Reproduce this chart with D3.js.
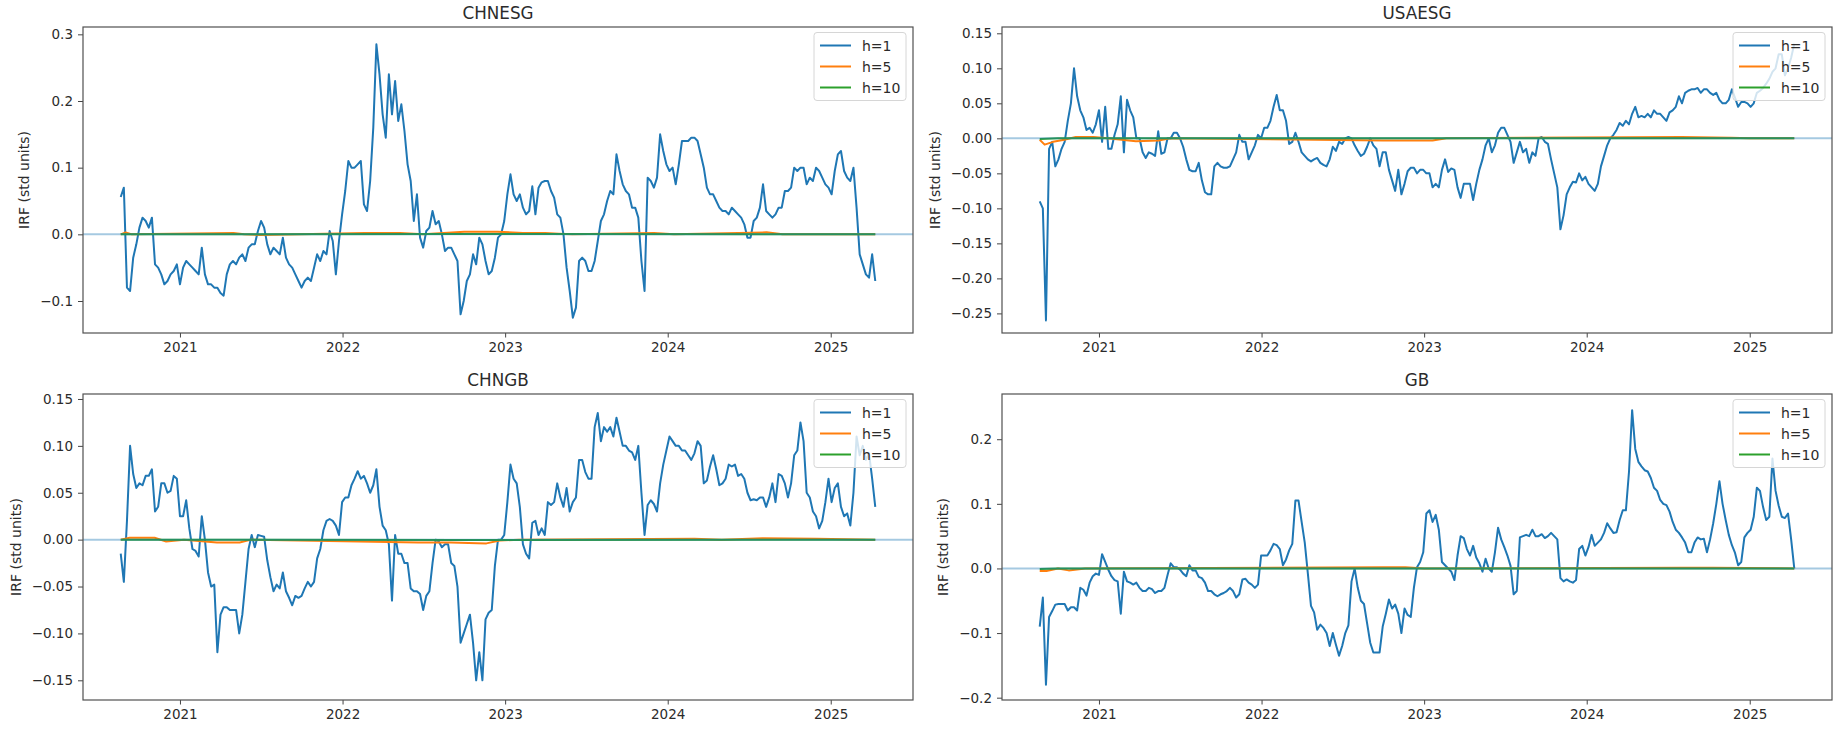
<!DOCTYPE html>
<html><head><meta charset="utf-8">
<script src="https://cdn.jsdelivr.net/npm/d3@7"></script>
<style>
body{margin:0;background:#fff}
svg{display:block}
text{font-family:"DejaVu Sans",sans-serif;fill:#2b2b2b}
</style>
</head><body>
<svg id="c" width="1842" height="732"></svg>
<script>
// ---------------- data ----------------
const panelNames = ["CHNESG", "USAESG", "CHNGB", "GB"];
const seriesLabels = ["h=1", "h=5", "h=10"];
const seriesColors = ["#1f77b4", "#ff7f0e", "#2ca02c"];
const yAxisLabel = "IRF (std units)";
const xTickYears = [2021, 2022, 2023, 2024, 2025];
// weekly observation index of the h=1 series
const firstDate = "2020-08-21";
const stepDays = 7;

const chnesgH1 = [0.056,0.07,-0.08,-0.085,-0.035,-0.015,0.01,0.025,0.02,0.01,0.025,
-0.045,-0.05,-0.06,-0.075,-0.07,-0.06,-0.055,-0.045,-0.075,-0.05,
-0.04,-0.045,-0.05,-0.055,-0.06,-0.02,-0.06,-0.075,-0.075,-0.08,
-0.08,-0.088,-0.092,-0.06,-0.045,-0.04,-0.045,-0.035,-0.03,-0.04,
-0.02,-0.015,-0.015,0.005,0.02,0.01,-0.015,-0.03,-0.02,-0.025,
-0.03,-0.005,-0.035,-0.045,-0.05,-0.06,-0.07,-0.08,-0.07,-0.065,
-0.07,-0.05,-0.03,-0.04,-0.025,-0.03,0.005,-0.01,-0.06,-0.01,
0.03,0.065,0.11,0.1,0.1,0.105,0.11,0.045,0.035,0.08,
0.16,0.285,0.24,0.18,0.145,0.24,0.18,0.23,0.17,0.195,
0.155,0.105,0.08,0.02,0.06,-0.005,-0.02,0.005,0.01,0.035,
0.015,0.02,0.0,-0.025,-0.02,-0.02,-0.03,-0.04,
-0.12,-0.1,-0.07,-0.06,-0.03,-0.045,-0.005,-0.015,-0.04,-0.06,-0.055,-0.035,
-0.005,0.0,0.02,0.06,0.09,0.06,0.05,0.06,0.04,0.03,
0.035,0.072,0.03,0.07,0.078,0.08,0.08,0.065,0.055,0.03,
0.025,0.0,-0.05,-0.085,-0.125,-0.11,-0.04,-0.035,-0.04,-0.055,
-0.055,-0.04,-0.01,0.02,0.03,0.05,0.065,0.06,0.12,0.095,
0.075,0.065,0.06,0.04,0.04,0.025,-0.04,-0.085,0.085,0.08,
0.07,0.085,0.15,0.125,0.105,0.095,0.1,0.075,0.105,0.14,
0.14,0.14,0.145,0.145,0.14,0.12,0.1,0.07,0.06,0.06,
0.05,0.04,0.035,0.035,0.03,0.04,0.035,0.03,0.025,0.015,
-0.005,-0.005,0.02,0.025,0.04,0.075,0.035,0.03,0.025,0.03,
0.04,0.04,0.065,0.065,0.07,0.1,0.095,0.1,0.1,0.075,
0.085,0.08,0.1,0.095,0.085,0.075,0.07,0.06,0.095,0.12,
0.125,0.095,0.085,0.08,0.1,0.04,-0.03,-0.045,-0.06,-0.065,
-0.03,-0.07];

const usaesgH1 = [-0.09,-0.1,-0.26,-0.015,-0.005,-0.04,-0.03,-0.015,-0.005,0.025,0.05,
0.1,0.06,0.04,0.03,0.012,0.015,0.008,0.02,0.04,-0.005,
0.045,-0.015,-0.015,0.005,0.02,0.06,-0.02,0.055,0.04,0.03,
0.0,0.0,-0.02,-0.028,-0.02,-0.022,-0.025,0.01,-0.022,-0.02,
0.0,0.0,0.008,0.008,0.0,-0.012,-0.03,-0.045,-0.047,-0.047,
-0.035,-0.06,-0.077,-0.08,-0.08,-0.04,-0.035,-0.04,-0.042,-0.042,
-0.04,-0.03,-0.02,0.005,-0.005,-0.005,-0.03,-0.02,-0.01,0.005,
0.0,0.015,0.015,0.025,0.045,0.062,0.04,0.04,0.025,-0.008,
-0.005,0.008,-0.005,-0.02,-0.025,-0.03,-0.033,-0.03,-0.028,-0.035,
-0.038,-0.04,-0.03,-0.012,-0.018,-0.005,-0.008,0.0,0.002,0.0,
-0.01,-0.018,-0.025,-0.022,-0.012,0.0,-0.01,-0.015,
-0.04,-0.02,-0.02,-0.045,-0.06,-0.075,-0.045,-0.08,-0.065,-0.047,-0.042,-0.042,
-0.05,-0.045,-0.045,-0.05,-0.05,-0.07,-0.065,-0.07,-0.045,-0.03,
-0.048,-0.043,-0.045,-0.07,-0.085,-0.065,-0.065,-0.065,-0.088,-0.065,
-0.045,-0.03,-0.01,0.0,-0.02,-0.01,0.008,0.015,0.015,0.005,
-0.005,-0.035,-0.02,-0.005,-0.02,-0.015,-0.035,-0.02,-0.025,0.0,
0.002,-0.005,-0.008,-0.03,-0.05,-0.07,-0.13,-0.11,-0.08,-0.07,
-0.062,-0.063,-0.05,-0.06,-0.055,-0.065,-0.07,-0.075,-0.065,-0.04,
-0.025,-0.01,0.0,0.005,0.012,0.022,0.018,0.025,0.02,0.035,
0.045,0.03,0.032,0.03,0.035,0.03,0.04,0.035,0.035,0.03,
0.025,0.037,0.04,0.045,0.06,0.05,0.065,0.068,0.07,0.07,
0.072,0.065,0.07,0.07,0.065,0.062,0.065,0.055,0.05,0.05,
0.055,0.07,0.058,0.045,0.052,0.052,0.05,0.045,0.05,0.065,
0.068,0.072,0.078,0.085,0.095,0.1,0.12,0.12,0.09,0.1,
0.115,0.135];

const chngbH1 = [-0.015,-0.045,0.02,0.1,0.07,0.055,0.06,0.058,0.068,0.068,0.075,
0.03,0.035,0.06,0.06,0.05,0.052,0.068,0.065,0.025,0.025,
0.042,0.012,-0.01,-0.012,-0.018,0.025,0.0,-0.035,-0.05,-0.048,
-0.12,-0.08,-0.072,-0.072,-0.075,-0.075,-0.075,-0.1,-0.08,-0.045,
-0.01,0.005,-0.008,0.005,0.004,0.003,-0.022,-0.04,-0.055,-0.048,
-0.052,-0.035,-0.055,-0.062,-0.07,-0.06,-0.062,-0.06,-0.052,-0.045,
-0.05,-0.045,-0.02,-0.01,0.01,0.02,0.022,0.02,0.015,0.005,
0.04,0.045,0.045,0.058,0.065,0.073,0.065,0.068,0.06,0.05,
0.058,0.075,0.035,0.015,0.01,-0.005,-0.065,0.005,-0.015,-0.015,
-0.025,-0.025,-0.052,-0.055,-0.055,-0.058,-0.075,-0.06,-0.055,-0.025,
0.0,-0.002,-0.008,-0.005,-0.005,-0.025,-0.028,-0.05,
-0.11,-0.1,-0.09,-0.08,-0.11,-0.15,-0.12,-0.15,-0.085,-0.078,-0.075,-0.028,
0.0,0.0,0.005,0.04,0.08,0.065,0.06,0.035,-0.005,-0.015,
-0.02,0.018,0.02,0.005,0.012,0.005,0.04,0.037,0.04,0.06,
0.045,0.035,0.055,0.03,0.04,0.045,0.085,0.085,0.072,0.065,
0.065,0.12,0.135,0.105,0.12,0.115,0.12,0.11,0.13,0.115,
0.1,0.1,0.095,0.093,0.085,0.1,0.05,0.005,0.037,0.042,
0.038,0.03,0.06,0.08,0.095,0.11,0.105,0.1,0.1,0.095,
0.095,0.09,0.085,0.092,0.105,0.1,0.06,0.063,0.078,0.09,
0.075,0.058,0.06,0.065,0.08,0.078,0.08,0.068,0.07,0.065,
0.05,0.042,0.043,0.042,0.045,0.045,0.035,0.045,0.06,0.04,
0.07,0.068,0.06,0.045,0.06,0.09,0.095,0.125,0.105,0.05,
0.045,0.03,0.025,0.012,0.02,0.04,0.065,0.04,0.055,0.06,
0.035,0.025,0.028,0.015,0.05,0.11,0.09,0.1,0.085,0.092,
0.065,0.035];

const gbH1 = [-0.09,-0.045,-0.18,-0.075,-0.066,-0.056,-0.055,-0.055,-0.055,-0.065,-0.06,
-0.06,-0.065,-0.03,-0.033,-0.042,-0.022,-0.012,-0.008,-0.01,0.022,
0.01,-0.002,-0.012,-0.018,-0.02,-0.07,-0.005,-0.02,-0.022,-0.025,
-0.022,-0.03,-0.035,-0.035,-0.03,-0.032,-0.038,-0.035,-0.035,-0.03,
-0.01,0.008,0.002,0.002,-0.002,-0.008,-0.012,0.005,-0.003,-0.003,
-0.013,-0.015,-0.022,-0.035,-0.035,-0.04,-0.043,-0.04,-0.038,-0.035,
-0.03,-0.035,-0.045,-0.04,-0.017,-0.016,-0.022,-0.025,-0.03,-0.025,
0.02,0.02,0.02,0.028,0.038,0.036,0.03,0.005,0.014,0.028,
0.038,0.105,0.105,0.072,0.04,-0.008,-0.058,-0.068,-0.095,-0.087,
-0.092,-0.1,-0.12,-0.1,-0.118,-0.135,-0.12,-0.1,-0.088,-0.02,
0.0,-0.03,-0.05,-0.055,-0.085,-0.115,-0.13,-0.13,
-0.13,-0.09,-0.07,-0.048,-0.062,-0.056,-0.07,-0.1,-0.062,-0.072,-0.075,-0.03,
0.002,0.01,0.025,0.085,0.09,0.072,0.083,0.06,0.01,0.005,
0.0,-0.005,-0.018,0.02,0.05,0.047,0.03,0.02,0.035,0.017,
0.008,-0.005,0.015,0.0,-0.005,0.025,0.063,0.045,0.033,0.02,
0.004,-0.04,-0.035,0.048,0.05,0.052,0.05,0.06,0.05,0.05,
0.053,0.047,0.05,0.055,0.05,0.045,-0.015,-0.02,-0.017,-0.02,
-0.022,-0.018,0.03,0.035,0.02,0.033,0.052,0.035,0.04,0.045,
0.055,0.07,0.062,0.055,0.056,0.075,0.09,0.09,0.15,0.245,
0.185,0.165,0.158,0.152,0.15,0.14,0.125,0.12,0.106,0.1,
0.098,0.088,0.072,0.06,0.055,0.048,0.04,0.025,0.025,0.04,
0.048,0.045,0.046,0.025,0.045,0.07,0.1,0.135,0.1,0.075,
0.052,0.036,0.024,0.005,0.01,0.048,0.055,0.06,0.08,0.125,
0.12,0.095,0.075,0.08,0.17,0.12,0.097,0.08,0.078,0.085,
0.045,0.0];

// h=5 and h=10 responses (dated, near zero)
const chnesgH5 = [["2020-08-21",0.0],["2020-09-01",0.003],["2020-09-15",0.0],["2021-05-01",0.002],["2021-05-25",0.0],["2021-06-30",-0.001],["2022-02-20",0.002],["2022-05-10",0.002],["2022-07-01",0.0],["2022-10-01",0.004],["2022-12-15",0.004],["2023-02-10",0.002],["2023-04-01",0.002],["2023-05-01",0.001],["2023-06-01",0.0],["2023-12-01",0.002],["2024-01-15",0.0],["2024-08-10",0.003],["2024-09-15",0.0],["2025-04-11",0.0]];
const usaesgH5 = [["2020-08-21",-0.002],["2020-09-01",-0.009],["2020-09-20",-0.005],["2020-10-15",-0.002],["2020-11-10",0.002],["2020-12-20",0.002],["2021-01-20",0.0],["2021-03-25",-0.004],["2021-05-15",-0.003],["2021-06-10",0.0],["2022-10-01",-0.003],["2023-01-20",-0.003],["2023-02-20",0.0],["2024-08-01",0.002],["2024-11-20",0.001],["2025-01-01",0.0],["2025-04-11",0.0]];
const chngbH5 = [["2020-08-21",0.0],["2020-09-10",0.002],["2020-11-05",0.002],["2020-12-01",-0.002],["2021-01-10",0.0],["2021-03-25",-0.003],["2021-05-15",-0.003],["2021-06-10",0.0],["2022-06-20",-0.003],["2022-09-01",-0.003],["2022-11-20",-0.004],["2022-12-20",-0.001],["2023-02-01",0.0],["2024-03-01",0.001],["2024-05-01",0.0],["2024-08-01",0.0015],["2024-12-01",0.001],["2025-04-11",0.0]];
const gbH5 = [["2020-08-21",-0.004],["2020-09-05",-0.004],["2020-10-01",0.0],["2020-10-25",-0.003],["2020-12-01",0.0],["2022-10-01",0.002],["2022-11-20",0.002],["2023-01-01",0.0],["2024-08-01",0.001],["2024-10-10",0.001],["2025-04-11",0.0]];
const chnesgH10 = [["2020-08-21",0.0],["2022-10-01",0.0005],["2023-03-01",0.0005],["2025-04-11",0.0]];
const usaesgH10 = [["2020-08-21",-0.001],["2020-10-01",0.0],["2025-04-11",0.0]];
const chngbH10 = [["2020-08-21",0.0],["2022-10-01",-0.0005],["2025-04-11",0.0]];
const gbH10 = [["2020-08-21",-0.001],["2020-10-01",0.0],["2025-04-11",0.0]];

// axis limits and ticks
const chnesgYLim = [-0.148, 0.311], chnesgYTicks = [-0.1, 0.0, 0.1, 0.2, 0.3];
const usaesgYLim = [-0.278, 0.159], usaesgYTicks = [-0.25, -0.2, -0.15, -0.1, -0.05, 0.0, 0.05, 0.1, 0.15];
const chngbYLim = [-0.171, 0.1553], chngbYTicks = [-0.15, -0.1, -0.05, 0.0, 0.05, 0.1, 0.15];
const gbYLim = [-0.2036, 0.270], gbYTicks = [-0.2, -0.1, 0.0, 0.1, 0.2];
const yTickFormats = [".1f", ".2f", ".2f", ".1f"];

const h1List = [chnesgH1, usaesgH1, chngbH1, gbH1];
const h5List = [chnesgH5, usaesgH5, chngbH5, gbH5];
const h10List = [chnesgH10, usaesgH10, chngbH10, gbH10];
const yLimList = [chnesgYLim, usaesgYLim, chngbYLim, gbYLim];
const yTickList = [chnesgYTicks, usaesgYTicks, chngbYTicks, gbYTicks];

// ---------------- drawing ----------------
const svg = d3.select("#c");
const colLeft = [83, 1002], rowTop = [27, 394], pw = 830, ph = 306;
const parse = d3.utcParse("%Y-%m-%d");
const t0 = parse(firstDate);
const tickFont = 13.5;

panelNames.forEach((name, k) => {
  const x0 = colLeft[k % 2], y0 = rowTop[Math.floor(k / 2)];
  const g = svg.append("g").attr("transform", `translate(${x0},${y0})`);
  const h1 = h1List[k].map((v, i) => ({d: d3.utcDay.offset(t0, i * stepDays), v}));
  const h5 = h5List[k].map(p => ({d: parse(p[0]), v: p[1]}));
  const h10 = h10List[k].map(p => ({d: parse(p[0]), v: p[1]}));
  const ext = d3.extent(h1, p => p.d);
  const pad = (ext[1] - ext[0]) * 0.05;
  const x = d3.scaleUtc().domain([new Date(+ext[0] - pad), new Date(+ext[1] + pad)]).range([0, pw]);
  const y = d3.scaleLinear().domain(yLimList[k]).range([ph, 0]);

  const clipId = "clip" + k;
  g.append("clipPath").attr("id", clipId).append("rect").attr("width", pw).attr("height", ph);
  const plot = g.append("g").attr("clip-path", `url(#${clipId})`);
  const line = d3.line().x(p => x(p.d)).y(p => y(p.v));
  [h1, h5, h10].forEach((s, j) => {
    plot.append("path").datum(s).attr("d", line)
      .attr("fill", "none").attr("stroke", seriesColors[j])
      .attr("stroke-width", 2).attr("stroke-linejoin", "round");
  });
  // zero reference line
  plot.append("line").attr("x1", 0).attr("x2", pw).attr("y1", y(0)).attr("y2", y(0))
    .attr("stroke", seriesColors[0]).attr("stroke-opacity", 0.4).attr("stroke-width", 2);

  // axes
  const xAxis = d3.axisBottom(x)
    .tickValues(xTickYears.map(yr => new Date(Date.UTC(yr, 0, 1))))
    .tickFormat(d3.utcFormat("%Y")).tickSize(4.5).tickPadding(4.5);
  const gx = g.append("g").attr("transform", `translate(0,${ph})`).call(xAxis);
  const yAxis = d3.axisLeft(y).tickValues(yTickList[k])
    .tickFormat(d3.format(yTickFormats[k])).tickSize(5).tickPadding(5);
  const gy = g.append("g").call(yAxis);
  [gx, gy].forEach(a => {
    a.select(".domain").remove();
    a.selectAll(".tick line").attr("stroke", "#444");
    a.selectAll(".tick text").attr("font-size", tickFont).attr("fill", "#2b2b2b")
      .style("font-family", "'DejaVu Sans', sans-serif");
  });
  let minLeft = 0;
  gy.selectAll(".tick text").each(function() {
    const b = this.getBBox(); minLeft = Math.min(minLeft, b.x);
  });
  // frame
  g.append("rect").attr("width", pw).attr("height", ph)
    .attr("fill", "none").attr("stroke", "#505050").attr("stroke-width", 1.2);

  // y label
  g.append("text").attr("transform", `translate(${minLeft - 11},${ph / 2}) rotate(-90)`)
    .attr("text-anchor", "middle").attr("font-size", 14).text(yAxisLabel);
  // title
  g.append("text").attr("x", pw / 2).attr("y", -8.5).attr("text-anchor", "middle")
    .attr("font-size", 16.8).text(name);

  // legend
  const lw = 92, lh = 68;
  const lg = g.append("g").attr("transform", `translate(${pw - 7 - lw},5.5)`);
  lg.append("rect").attr("width", lw).attr("height", lh).attr("rx", 3)
    .attr("fill", "#fff").attr("fill-opacity", 0.8).attr("stroke", "#d6d6d6");
  seriesLabels.forEach((lab, j) => {
    const cy = 13 + j * 21;
    lg.append("line").attr("x1", 6).attr("x2", 37).attr("y1", cy).attr("y2", cy)
      .attr("stroke", seriesColors[j]).attr("stroke-width", 2);
    lg.append("text").attr("x", 48).attr("y", cy + 5).attr("font-size", 14).text(lab);
  });
});
</script>
</body></html>
